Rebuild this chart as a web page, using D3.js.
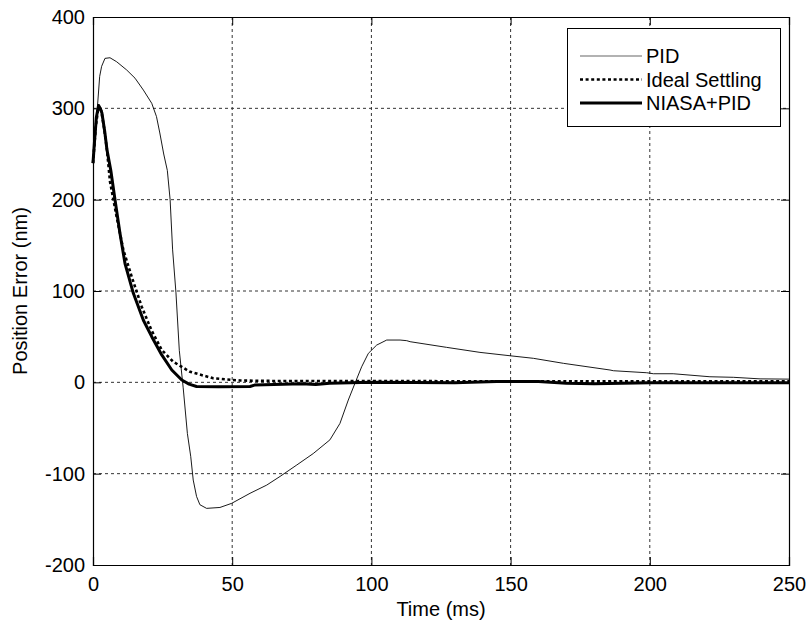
<!DOCTYPE html>
<html>
<head>
<meta charset="utf-8">
<script src="https://cdn.jsdelivr.net/npm/d3@7/dist/d3.min.js"></script>
<style>
  body { margin: 0; background: #fff; }
  text { font-family: "Liberation Sans", Arial, sans-serif; fill: #000; }
</style>
</head>
<body>
<svg id="chart" width="807" height="621"></svg>
<script>
// Position error vs time -- PID / ideal settling / NIASA+PID

var xTicks = [0, 50, 100, 150, 200, 250];
var yTicks = [-200, -100, 0, 100, 200, 300, 400];

var seriesNames = ["PID", "Ideal Settling", "NIASA+PID"];

// PID response (ms, nm)
var pidT = [0, 0.8, 1.6, 2.4, 3.1, 4.3, 6.1, 8.5, 12.1, 15.1, 18.1, 21.1, 22.8, 24.0, 25.4,
  26.7, 27.7, 28.6, 29.8, 31.0, 32.4, 33.9, 35.1, 36.0, 37.2, 38.4, 40.8, 45.6, 49.8, 56.4,
  62.4, 67.2, 73.2, 79.1, 85.1, 88.7, 91.7, 94.1, 96.5, 98.9, 101.9, 105.5, 110.3, 112.7,
  113.9, 127.0, 139.0, 149.8, 158.2, 169.0, 185.7, 186.9, 198.9, 201.3, 208.4, 221.6, 230,
  239.6, 250];
var pidV = [240, 265, 302, 335, 346, 354.7, 355.4, 351, 342, 333, 320, 305.5, 291, 273, 250,
  232, 200, 145, 98, 35, -6, -56, -81, -107, -125, -134, -138, -137, -132.5, -121.5,
  -112.5, -103, -90.5, -78, -63, -45, -19.4, -1, 17, 31.7, 40.8, 46.3, 46.3, 45.6,
  44.5, 38.3, 32.8, 29.1, 26.3, 20.8, 13.5, 12.7, 10.5, 9.4, 9.4, 6.1, 5.5,
  3.8, 3.5];

// ideal settling curve
var idealT = [0, 1, 2, 3, 4, 5, 6.1, 8.5, 10.9, 13.9, 17.5, 21, 24.7, 28.8, 34.8, 43.2,
  52.8, 65, 100, 150, 200, 250];
var idealV = [240, 280, 303, 297, 278, 255, 220, 181, 145, 115.6, 82.8, 57, 35.4, 22.6, 11.6, 4.4,
  2, 1.5, 1.5, 1, 1, 1];

// NIASA+PID response
var niasaT = [0, 0.5, 1.2, 2, 2.6, 3.2, 4.2, 5, 6.4, 7.9, 9.7, 11.5, 14.5, 18.1, 21.1, 24.7,
  28.3, 31.9, 34.5, 37.2, 45, 56.4, 58, 65, 75, 80, 85, 100, 130, 145, 160, 170, 180,
  200, 250];
var niasaV = [240, 262, 290, 303, 300, 295, 275, 255, 232, 200, 163, 130, 97.5, 68, 50, 30,
  13.5, 2.5, -2, -4.5, -4.8, -4.5, -3, -2.5, -1.5, -2.5, -1, 0, -0.5, 1, 1, -1, -1.5,
  -0.5, -0.5];

// plot box (px)
var boxL = 93, boxR = 789, boxT = 17, boxB = 565;

var svg = d3.select("#chart");

var x = d3.scaleLinear().domain([0, 250]).range([boxL, boxR]);
var y = d3.scaleLinear().domain([-200, 400]).range([boxB, boxT]);

// grid
svg.append("g").selectAll("line").data(xTicks.slice(1, -1)).enter().append("line")
  .attr("x1", function (d) { return x(d); }).attr("x2", function (d) { return x(d); })
  .attr("y1", boxT).attr("y2", boxB)
  .attr("stroke", "#333").attr("stroke-width", 1).attr("stroke-dasharray", "3,3");
svg.append("g").selectAll("line").data(yTicks.slice(1, -1)).enter().append("line")
  .attr("x1", boxL).attr("x2", boxR)
  .attr("y1", function (d) { return y(d); }).attr("y2", function (d) { return y(d); })
  .attr("stroke", "#333").attr("stroke-width", 1).attr("stroke-dasharray", "3,3");

// axes, ticks inward on all four sides
var fmt = function (d) { return d; };
svg.append("g").attr("transform", "translate(0," + boxB + ")")
  .call(d3.axisBottom(x).tickValues(xTicks).tickSize(-8).tickPadding(12).tickFormat(fmt));
svg.append("g").attr("transform", "translate(0," + boxT + ")")
  .call(d3.axisTop(x).tickValues(xTicks).tickSize(-8).tickFormat(""));
svg.append("g").attr("transform", "translate(" + boxL + ",0)")
  .call(d3.axisLeft(y).tickValues(yTicks).tickSize(-8).tickPadding(8).tickFormat(fmt));
svg.append("g").attr("transform", "translate(" + boxR + ",0)")
  .call(d3.axisRight(y).tickValues(yTicks).tickSize(-8).tickFormat(""));

svg.selectAll(".domain").attr("stroke", "#000").attr("stroke-width", 1.2);
svg.selectAll(".tick line").attr("stroke", "#000");
svg.selectAll(".tick text").style("font-size", "20px")
  .style("font-family", "'Liberation Sans', Arial, sans-serif");

// axis labels
svg.append("text").attr("x", (boxL + boxR) / 2).attr("y", 616)
  .attr("text-anchor", "middle").style("font-size", "20px").text("Time (ms)");
svg.append("text").attr("transform", "translate(27," + (boxT + boxB) / 2 + ") rotate(-90)")
  .attr("text-anchor", "middle").style("font-size", "20px").text("Position Error (nm)");

// curves
var styles = [
  { width: 0.9, dash: null },
  { width: 2.6, dash: "3,2.6" },
  { width: 3, dash: null }
];
var curves = [
  d3.zip(pidT, pidV),
  d3.zip(idealT, idealV),
  d3.zip(niasaT, niasaV)
];
var line = d3.line()
  .x(function (d) { return x(d[0]); })
  .y(function (d) { return y(d[1]); });

svg.append("g").selectAll("path").data(curves).enter().append("path")
  .attr("d", line)
  .attr("fill", "none")
  .attr("stroke", "#000")
  .attr("stroke-linejoin", "round")
  .attr("stroke-width", function (d, i) { return styles[i].width; })
  .attr("stroke-dasharray", function (d, i) { return styles[i].dash; });

// legend
var legend = svg.append("g");
legend.append("rect").attr("x", 567.5).attr("y", 28.5).attr("width", 213).attr("height", 98)
  .attr("fill", "#fff").attr("stroke", "#000").attr("stroke-width", 1);
var rows = legend.selectAll("g.row").data(seriesNames).enter().append("g")
  .attr("class", "row")
  .attr("transform", function (d, i) { return "translate(0," + (56 + i * 23.5) + ")"; });
rows.append("line").attr("x1", 580).attr("x2", 642).attr("y1", 0).attr("y2", 0)
  .attr("stroke", function (d, i) { return i === 0 ? "#666" : "#000"; })
  .attr("stroke-width", function (d, i) { return i === 0 ? 1.2 : styles[i].width; })
  .attr("stroke-dasharray", function (d, i) { return styles[i].dash; });
rows.append("text").attr("x", 646).attr("dy", "0.35em").style("font-size", "20px")
  .text(function (d) { return d; });
</script>
</body>
</html>
